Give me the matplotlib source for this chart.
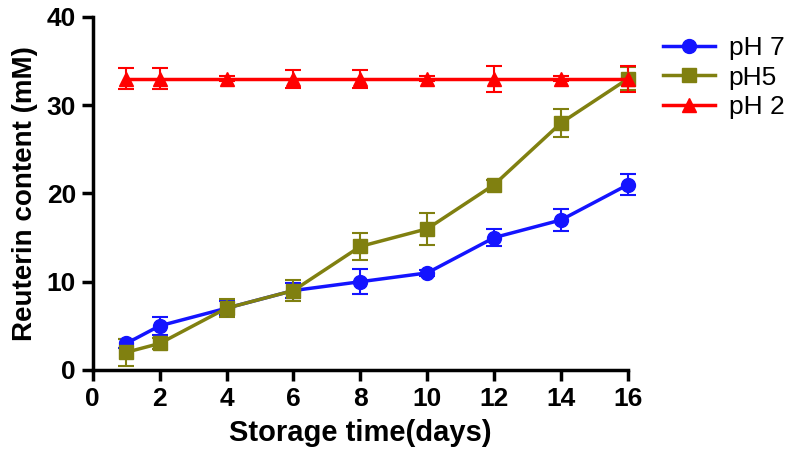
import matplotlib
matplotlib.use("Agg")
import matplotlib.pyplot as plt
from matplotlib import font_manager
from matplotlib.lines import Line2D

days = [1, 2, 4, 6, 8, 10, 12, 14, 16]
ph7 = [3, 5, 7, 9, 10, 11, 15, 17, 21]
ph7_err = [0.5, 1.0, 0.8, 0.8, 1.4, 0.3, 1.0, 1.2, 1.2]
ph5 = [2, 3, 7, 9, 14, 16, 21, 28, 33]
ph5_err = [1.5, 0.6, 1.0, 1.2, 1.5, 1.8, 0.5, 1.6, 1.3]
ph2 = [33, 33, 33, 33, 33, 33, 33, 33, 33]
ph2_err = [1.2, 1.2, 0.3, 1.0, 1.0, 0.3, 1.5, 0.3, 1.5]

names = set(f.name for f in font_manager.fontManager.ttflist)
if "Liberation Sans Narrow" in names:
    bold_font = "Liberation Sans Narrow"
elif "DejaVu Sans Condensed" in names:
    bold_font = "DejaVu Sans Condensed"
else:
    bold_font = "Liberation Sans"

fig = plt.figure(figsize=(7.86, 4.59), dpi=100)
ax = fig.add_axes([0.118, 0.194, 0.681, 0.769])

series = [
    ("pH 7", ph7, ph7_err, "#1414ff", "o", 10),
    ("pH5", ph5, ph5_err, "#808010", "s", 10),
    ("pH 2", ph2, ph2_err, "#ff0000", "^", 10),
]
handles = []
for label, y, err, col, mk, ms in series:
    ax.errorbar(days, y, yerr=err, color=col, marker=mk, markersize=ms,
                linewidth=2.5, elinewidth=1.5, capsize=6, capthick=1.5,
                clip_on=False)
    handles.append(Line2D([], [], color=col, marker=mk, markersize=ms,
                          linewidth=2.5, label=label))

ax.set_xlim(0, 16)
ax.set_ylim(0, 40)
ax.set_xticks(range(0, 17, 2))
ax.set_yticks(range(0, 41, 10))
for s in ["top", "right"]:
    ax.spines[s].set_visible(False)
for s in ["left", "bottom"]:
    ax.spines[s].set_linewidth(2.5)
ax.tick_params(width=2.5, length=8, direction="out", pad=4)
for t in ax.get_xticklabels() + ax.get_yticklabels():
    t.set_fontfamily(bold_font)
    t.set_fontweight("bold")
    t.set_fontsize(19)

ax.set_xlabel("Storage time(days)", fontfamily=bold_font, fontweight="bold", fontsize=21, labelpad=6)
ax.set_ylabel("Reuterin content (mM)", fontfamily="Liberation Sans", fontweight="bold", fontsize=20, labelpad=6)

leg = ax.legend(handles=handles, loc="upper left", bbox_to_anchor=(1.045, 0.975), frameon=False,
                prop={"family": "Liberation Sans", "size": 19}, handlelength=2.0,
                handletextpad=0.5, labelspacing=0.2, borderaxespad=0)

fig.savefig("out.png", dpi=100)
